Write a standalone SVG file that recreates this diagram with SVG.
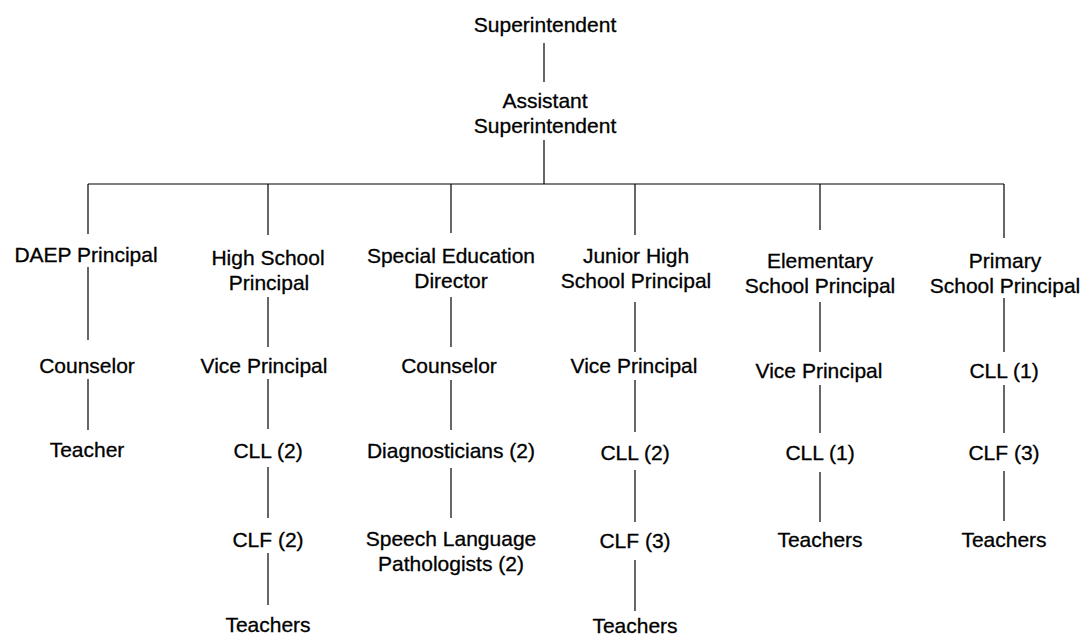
<svg xmlns="http://www.w3.org/2000/svg" width="1080" height="635" viewBox="0 0 1080 635">
<style>
text{font-family:"Liberation Sans",Arial,sans-serif;font-size:21px;fill:#000;stroke:#000;stroke-width:0.3;text-anchor:middle}
line{stroke:#000;stroke-width:1.2}
</style>
<rect width="1080" height="635" fill="#fff"/>
<g id="connectors">
<line x1="544" y1="43" x2="544" y2="82"/>
<line x1="544" y1="140" x2="544" y2="184"/>
<line x1="88" y1="184" x2="1004" y2="184"/>
<line x1="88" y1="184" x2="88" y2="234"/>
<line x1="268" y1="184" x2="268" y2="235"/>
<line x1="451" y1="184" x2="451" y2="233"/>
<line x1="635" y1="184" x2="635" y2="235"/>
<line x1="820" y1="184" x2="820" y2="230"/>
<line x1="1004" y1="184" x2="1004" y2="238"/>
<line x1="88" y1="267" x2="88" y2="340"/>
<line x1="88" y1="379" x2="88" y2="430"/>
<line x1="268" y1="297" x2="268" y2="347"/>
<line x1="268" y1="379" x2="268" y2="429"/>
<line x1="268" y1="467" x2="268" y2="518"/>
<line x1="268" y1="553" x2="268" y2="605"/>
<line x1="451" y1="297" x2="451" y2="347"/>
<line x1="451" y1="380" x2="451" y2="430"/>
<line x1="451" y1="468" x2="451" y2="518"/>
<line x1="635" y1="302" x2="635" y2="352"/>
<line x1="635" y1="380" x2="635" y2="432"/>
<line x1="635" y1="470" x2="635" y2="522"/>
<line x1="635" y1="560" x2="635" y2="611"/>
<line x1="820" y1="302" x2="820" y2="352"/>
<line x1="820" y1="385" x2="820" y2="433"/>
<line x1="820" y1="472" x2="820" y2="522"/>
<line x1="1004" y1="298" x2="1004" y2="352"/>
<line x1="1004" y1="385" x2="1004" y2="433"/>
<line x1="1004" y1="471" x2="1004" y2="521"/>
</g>
<g id="superintendent"><text x="545" y="32">Superintendent</text></g>
<g id="assistant-superintendent"><text x="545" y="108">Assistant</text><text x="545" y="133">Superintendent</text></g>
<g id="daep-principal"><text x="86" y="262">DAEP Principal</text></g>
<g id="daep-counselor"><text x="87" y="373">Counselor</text></g>
<g id="daep-teacher"><text x="87" y="457">Teacher</text></g>
<g id="hs-principal"><text x="268" y="265">High School</text><text x="269" y="290">Principal</text></g>
<g id="hs-vice-principal"><text x="264" y="373">Vice Principal</text></g>
<g id="hs-cll"><text x="268" y="458">CLL (2)</text></g>
<g id="hs-clf"><text x="268" y="547">CLF (2)</text></g>
<g id="hs-teachers"><text x="268" y="632">Teachers</text></g>
<g id="sped-director"><text x="451" y="263">Special Education</text><text x="451" y="288">Director</text></g>
<g id="sped-counselor"><text x="449" y="373">Counselor</text></g>
<g id="sped-diagnosticians"><text x="451" y="458">Diagnosticians (2)</text></g>
<g id="sped-slp"><text x="451" y="546">Speech Language</text><text x="451" y="571">Pathologists (2)</text></g>
<g id="jh-principal"><text x="636" y="263">Junior High</text><text x="636" y="288">School Principal</text></g>
<g id="jh-vice-principal"><text x="634" y="373">Vice Principal</text></g>
<g id="jh-cll"><text x="635" y="460">CLL (2)</text></g>
<g id="jh-clf"><text x="635" y="548">CLF (3)</text></g>
<g id="jh-teachers"><text x="635" y="633">Teachers</text></g>
<g id="elem-principal"><text x="820" y="268">Elementary</text><text x="820" y="293">School Principal</text></g>
<g id="elem-vice-principal"><text x="819" y="378">Vice Principal</text></g>
<g id="elem-cll"><text x="820" y="460">CLL (1)</text></g>
<g id="elem-teachers"><text x="820" y="547">Teachers</text></g>
<g id="primary-principal"><text x="1005" y="268">Primary</text><text x="1005" y="293">School Principal</text></g>
<g id="primary-cll"><text x="1004" y="378">CLL (1)</text></g>
<g id="primary-clf"><text x="1004" y="460">CLF (3)</text></g>
<g id="primary-teachers"><text x="1004" y="547">Teachers</text></g>
</svg>
